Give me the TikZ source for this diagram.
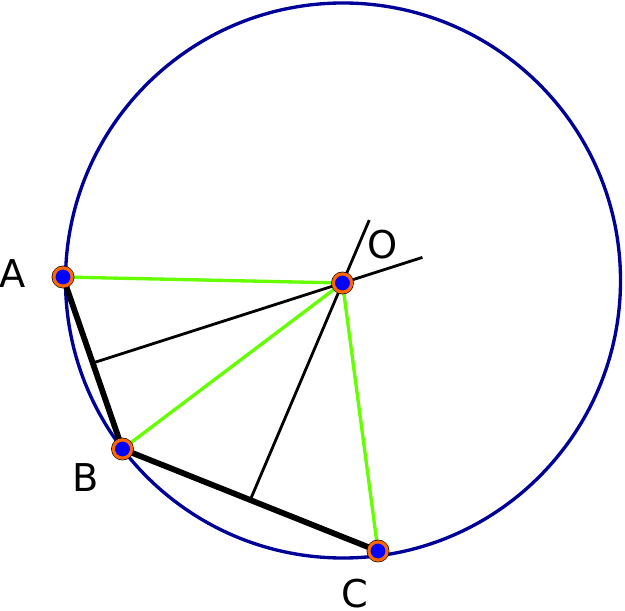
\documentclass[tikz,border=0pt]{standalone}
\usepackage{fontspec}
\setmainfont{DejaVu Sans}
\usetikzlibrary{calc}
\pgfdeclarelayer{background layer}
\pgfsetlayers{background layer,main}
\definecolor{ringorange}{RGB}{255,102,0}
\definecolor{circblue}{RGB}{0,0,153}
\definecolor{spokegreen}{RGB}{102,255,0}
\tikzstyle{pt}=[circle,fill=blue,draw=ringorange,line width=1.8pt,inner sep=0pt,minimum size=10.4pt,preaction={draw=black,line width=2.5pt}]
\tikzstyle{lbl}=[inner sep=0pt,font=\fontsize{21.8}{26}\selectfont]
\tikzstyle{circ}=[draw=circblue,line width=1.9pt]
\tikzstyle{spoke}=[draw=spokegreen,line width=1.9pt]
\tikzstyle{bisector}=[draw=black,line width=1.6pt]
\tikzstyle{chord}=[draw=black,line width=3.3pt]

\begin{document}
\begin{tikzpicture}[x=0.02cm,y=-0.02cm]
		\useasboundingbox (0,0) rectangle (625,611);
		\node (A) at (63,277) [pt] {};
		\node (B) at (122.5,449) [pt] {};
		\node (C) at (378,551) [pt] {};
		\node (O) at (342.5,283) [pt] {};
		
		\node (lA) at (13,274) [lbl] {A};
		\node (lB) at (86,478) [lbl] {B};
		\node (lC) at (355,594) [lbl] {C};
		\node (lO) at (383,245) [lbl] {O};
		
		\coordinate (mAB) at ($(A)!0.5!(B)$);
		\coordinate (mBC) at ($(B)!0.5!(C)$);
		\coordinate (eAB) at ($(mAB)!1.32!(O)$);
		\coordinate (eBC) at ($(mBC)!1.29!(O)$);
		
		\begin{pgfonlayer}{background layer}
			\draw [circ] (343,280.5) circle [radius=277.5];
			\draw [spoke] (O.center)-- (A.center);
			\draw [spoke] (O.center)-- (B.center);
			\draw [spoke] (O.center)-- (C.center);
			\draw [bisector] (mAB)-- (eAB);
			\draw [bisector] (mBC)-- (eBC);
			\draw [chord,line join=round] (A.center)-- (B.center)-- (C.center);
		\end{pgfonlayer}
	\end{tikzpicture}
\end{document}
